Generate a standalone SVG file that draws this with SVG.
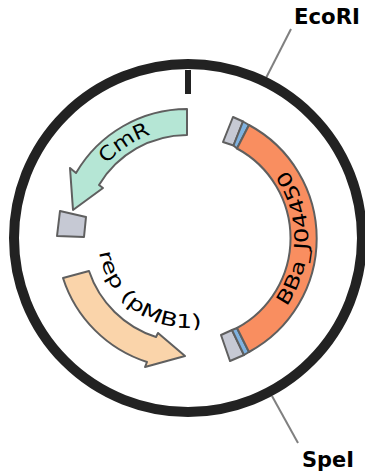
<svg xmlns="http://www.w3.org/2000/svg" width="365" height="476" viewBox="0 0 365 476">
<style>
.f{stroke:#5f5f5f;stroke-width:2;stroke-linejoin:round}
.g{fill:#c6c9d4}
.b{fill:#7fb2e0}
.t{font-family:"DejaVu Sans",sans-serif;font-size:19px;fill:#000}
.l{font-family:"DejaVu Sans",sans-serif;font-size:20.500px;font-weight:bold;fill:#000}
.c{stroke:#808080;stroke-width:2;fill:none}
</style>
<defs>
<path id="pCm" d="M78 238A110 110 0 0 1 298 238"/>
<path id="pBB" d="M188 358A120 120 0 0 0 188 118"/>
<path id="pRep" d="M98 238A90 90 0 0 0 278 238"/>
</defs>
<g id="connectors">
<line class="c" x1="291" y1="29" x2="266" y2="78"/>
<line class="c" x1="272" y1="396" x2="298" y2="443"/>
</g>
<g id="backbone">
<circle cx="188" cy="238" r="174" fill="none" stroke="#222" stroke-width="10"/>
<rect x="185" y="70" width="6" height="24" fill="#222"/>
</g>
<g id="BBa_J04450">
<path class="f g" d="M233 117L243 121.500L233.500 145.500L223 142Z"/>
<path class="f b" d="M243 121.500L249 125L237 148.500L233.500 145.500Z"/>
<path class="f g" d="M221 335L232 330L244 355L230 361Z"/>
<path class="f b" d="M232 330L237 328L249 352L244 355Z"/>
<path class="f" fill="#f98e60" d="M249 125A129 129 0 0 1 249 352L237 328A102 102 0 0 0 237 148.500Z"/>
<text class="t" textLength="146" lengthAdjust="spacingAndGlyphs"><textPath href="#pBB" startOffset="50%" text-anchor="middle">BBa_J04450</textPath></text>
</g>
<g id="CmR">
<path class="f" fill="#b5e6d5" d="M187 109L187 135A103 103 0 0 0 99 185L103 188L73 210L70 168L76 173A129 129 0 0 1 187 109Z"/>
<text class="t" style="font-size:20px" transform="rotate(-33.800 188 238)" textLength="54" lengthAdjust="spacingAndGlyphs"><textPath href="#pCm" startOffset="50%" text-anchor="middle">CmR</textPath></text>
</g>
<g id="site">
<path class="f g" d="M60 211L86 217L84 237L57 236Z"/>
</g>
<g id="rep">
<path class="f" fill="#fad4aa" d="M63 278L89 271A104 104 0 0 0 156 337L158 333L185 356L145 367L147 362A130 130 0 0 1 63 278Z"/>
<text class="t" transform="rotate(36 188 238)" textLength="141" lengthAdjust="spacingAndGlyphs"><textPath href="#pRep" startOffset="50%" text-anchor="middle">rep (pMB1)</textPath></text>
</g>
<g id="labels">
<text class="l" x="294" y="24" textLength="66" lengthAdjust="spacingAndGlyphs">EcoRI</text>
<text class="l" x="302" y="467" textLength="52" lengthAdjust="spacingAndGlyphs">SpeI</text>
</g>
</svg>
